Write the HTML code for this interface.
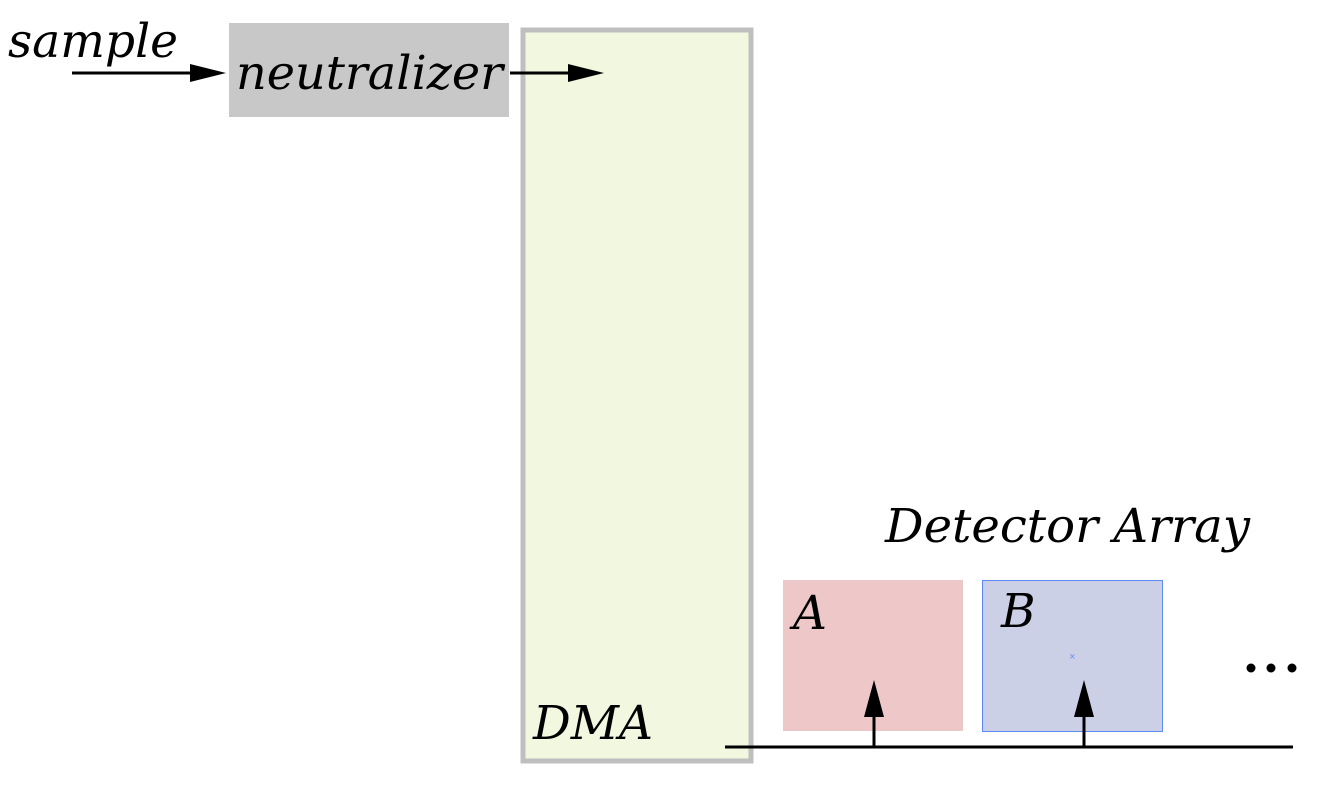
<!DOCTYPE html>
<html><head><style>body{margin:0;background:#fff}svg{display:block}text{font-family:"DejaVu Serif",serif;font-style:italic;fill:#000}</style></head>
<body>
<svg width="1320" height="786" xmlns="http://www.w3.org/2000/svg">
<rect x="229" y="23" width="280" height="94" fill="#c8c8c8"/>
<rect x="523" y="30" width="228" height="731" fill="#f2f7df" stroke="#bfbfbf" stroke-width="5"/>
<rect x="783" y="580" width="180" height="151" fill="#eec8c9"/>
<rect x="982.5" y="580.5" width="180" height="151" fill="#cbd0e6" stroke="#5b8af5" stroke-width="1"/>
<text x="8" y="57" font-size="47" textLength="170" lengthAdjust="spacingAndGlyphs">sample</text>
<text x="236" y="89" font-size="47" textLength="267" lengthAdjust="spacingAndGlyphs">neutralizer</text>
<text x="533" y="739" font-size="47" textLength="120" lengthAdjust="spacingAndGlyphs">DMA</text>
<text x="885" y="542" font-size="47" textLength="365" lengthAdjust="spacingAndGlyphs">Detector Array</text>
<text x="793" y="629" font-size="47">A</text>
<text x="1001" y="627" font-size="47">B</text>
<g fill="#000">
<ellipse cx="1251" cy="668" rx="4.5" ry="4.5"/>
<ellipse cx="1271" cy="668" rx="4.5" ry="4.5"/>
<ellipse cx="1292" cy="668" rx="4.5" ry="4.5"/>
</g>
<g stroke="#000" stroke-width="3">
<line x1="72" y1="73" x2="195" y2="73"/>
<line x1="510" y1="73" x2="575" y2="73"/>
<line x1="725" y1="747" x2="1293" y2="747"/>
<line x1="874" y1="747" x2="874" y2="712"/>
<line x1="1084" y1="747" x2="1084" y2="712"/>
</g>
<polygon points="190,64 226,73 190,82" fill="#000"/>
<polygon points="568,64 604,73 568,82" fill="#000"/>
<polygon points="864,717 874,680 884,717" fill="#000"/>
<polygon points="1074,717 1084,680 1094,717" fill="#000"/>
<text x="1069" y="659" font-size="8" font-style="normal" style="fill:#5b8af5">×</text>
</svg>
</body></html>
